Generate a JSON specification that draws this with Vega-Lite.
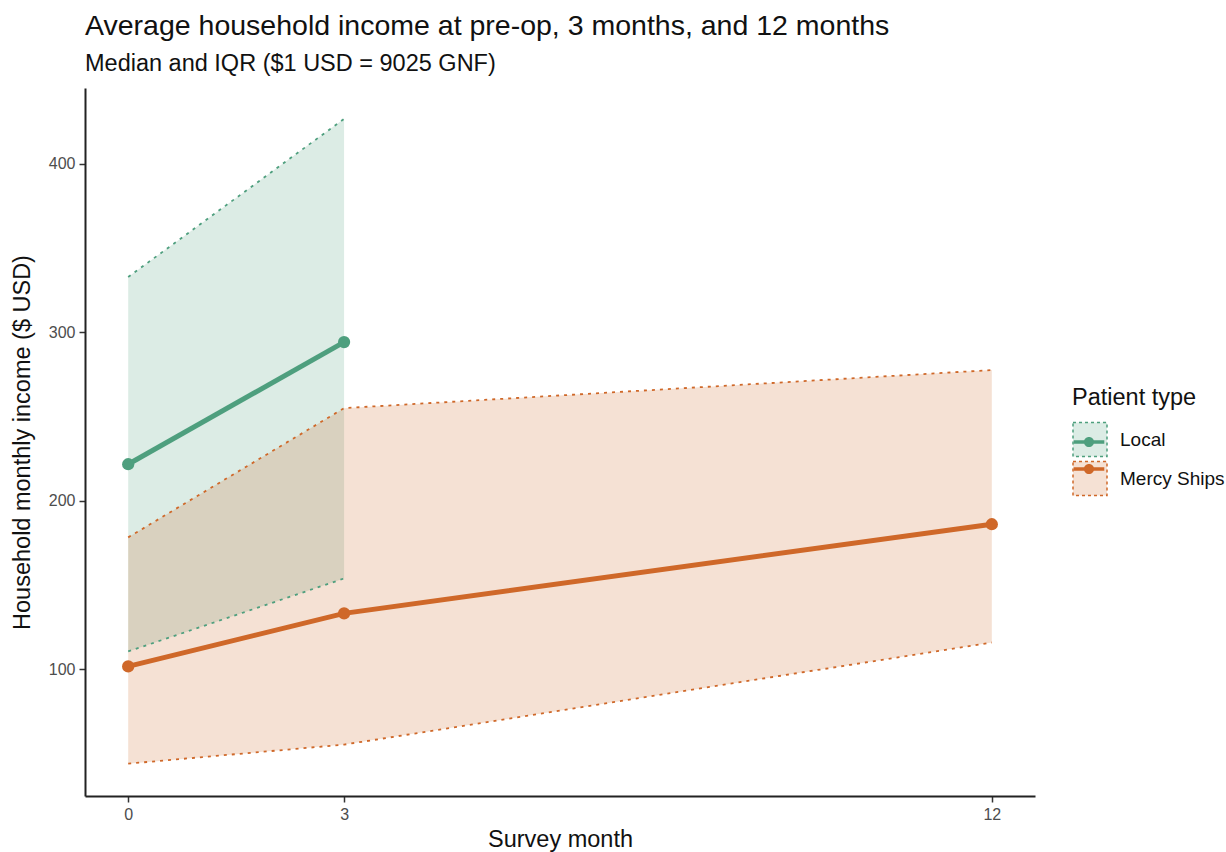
{
  "$schema": "https://vega.github.io/schema/vega-lite/v6.json",
  "width": 950,
  "height": 708,
  "autosize": "none",
  "padding": {"left": 85, "top": 88, "right": 191, "bottom": 56},
  "background": "white",
  "config": {
    "font": "Liberation Sans",
    "view": {"stroke": null},
    "axis": {
      "grid": false,
      "domainColor": "#222222",
      "domainWidth": 2,
      "tickColor": "#333333",
      "tickWidth": 1.5,
      "tickSize": 6,
      "labelColor": "#4d4d4d",
      "labelFontSize": 16,
      "labelFont": "Liberation Sans",
      "titleFont": "Liberation Sans",
      "titleFontSize": 23.5,
      "titleFontWeight": "normal",
      "titleColor": "#111111",
      "labelPadding": 4
    },
    "title": {
      "font": "Liberation Sans",
      "fontSize": 28.5,
      "fontWeight": "normal",
      "color": "#111111",
      "subtitleFont": "Liberation Sans",
      "subtitleFontSize": 23.5,
      "subtitleColor": "#111111",
      "anchor": "start",
      "frame": "group",
      "offset": 13,
      "subtitlePadding": 11
    }
  },
  "title": {
    "text": "Average household income at pre-op, 3 months, and 12 months",
    "subtitle": "Median and IQR ($1 USD = 9025 GNF)"
  },
  "data": {
    "values": [
      {"type": "Local", "month": 0, "median": 221.8, "lo": 110.7, "hi": 332.9},
      {"type": "Local", "month": 3, "median": 294.3, "lo": 154.0, "hi": 426.8},
      {"type": "Mercy Ships", "month": 0, "median": 101.8, "lo": 44.1, "hi": 178.4},
      {"type": "Mercy Ships", "month": 3, "median": 133.3, "lo": 55.4, "hi": 255.1},
      {"type": "Mercy Ships", "month": 12, "median": 186.2, "lo": 116.0, "hi": 277.7}
    ]
  },
  "encoding": {
    "x": {
      "field": "month",
      "type": "quantitative",
      "scale": {"domain": [-0.6, 12.6], "nice": false, "zero": false},
      "axis": {"values": [0, 3, 12], "title": "Survey month", "titlePadding": 5}
    }
  },
  "resolve": {"scale": {"color": "independent"}, "legend": {"color": "independent"}},
  "layer": [
    {
      "layer": [
        {
          "mark": {"type": "area", "opacity": 0.2},
          "encoding": {
            "y": {
              "field": "lo",
              "type": "quantitative",
              "scale": {"domain": [24.9, 445.1], "nice": false, "zero": false},
              "axis": {"values": [100, 200, 300, 400], "title": "Household monthly income ($ USD)", "titlePadding": 14}
            },
            "y2": {"field": "hi"},
            "color": {
              "field": "type",
              "type": "nominal",
              "scale": {"domain": ["Local", "Mercy Ships"], "range": ["#4E9F7E", "#CF6829"]},
              "legend": {
                "title": "Patient type",
                "orient": "none",
                "legendX": 987,
                "legendY": 298,
                "titleFont": "Liberation Sans",
                "titleFontSize": 23.5,
                "titleFontWeight": "normal",
                "titleColor": "#111111",
                "titlePadding": 12,
                "labelFont": "Liberation Sans",
                "labelFontSize": 19,
                "labelColor": "#111111",
                "labelOffset": 12,
                "symbolType": "square",
                "symbolSize": 1156,
                "symbolOpacity": 0.2,
                "rowPadding": -1,
                "encode": {
                  "symbols": {
                    "update": {
                      "stroke": {"signal": "datum.value === 'Local' ? '#4E9F7E' : '#CF6829'"},
                      "strokeOpacity": {"value": 1},
                      "fillOpacity": {"value": 0.2},
                      "opacity": {"value": 1},
                      "strokeDash": {"value": [3, 3]},
                      "strokeWidth": {"value": 1.5}
                    }
                  }
                }
              }
            }
          }
        },
        {
          "mark": {"type": "line", "strokeDash": [3, 5], "strokeWidth": 1.8},
          "encoding": {
            "y": {"field": "lo", "type": "quantitative"},
            "color": {"field": "type", "type": "nominal"},
            "detail": {"field": "type"}
          }
        },
        {
          "mark": {"type": "line", "strokeDash": [3, 5], "strokeWidth": 1.8},
          "encoding": {
            "y": {"field": "hi", "type": "quantitative"},
            "color": {"field": "type", "type": "nominal"},
            "detail": {"field": "type"}
          }
        }
      ]
    },
    {
      "layer": [
        {
          "mark": {"type": "line", "strokeWidth": 5},
          "encoding": {
            "y": {"field": "median", "type": "quantitative"},
            "color": {
              "field": "type",
              "type": "nominal",
              "scale": {"domain": ["Local", "Mercy Ships"], "range": ["#4E9F7E", "#CF6829"]},
              "legend": {
                "title": null,
                "orient": "none",
                "legendX": 987,
                "legendY": 337,
                "labelExpr": "''",
                "labelFontSize": 19,
                "labelOffset": 12,
                "symbolType": "M-0.9,-0.11H0.9V0.11H-0.9Z M0.3,0A0.3,0.3 0 1,1 -0.3,0A0.3,0.3 0 1,1 0.3,0Z",
                "symbolSize": 1156,
                "rowPadding": -1,
                "encode": {
                  "symbols": {
                    "update": {
                      "fill": {"signal": "datum.value === 'Local' ? '#4E9F7E' : '#CF6829'"},
                      "fillOpacity": {"value": 1},
                      "opacity": {"value": 1},
                      "strokeWidth": {"value": 0}
                    }
                  }
                }
              }
            }
          }
        },
        {
          "mark": {"type": "circle", "size": 150, "opacity": 1},
          "encoding": {
            "y": {"field": "median", "type": "quantitative"},
            "color": {"field": "type", "type": "nominal"}
          }
        }
      ]
    }
  ]
}
